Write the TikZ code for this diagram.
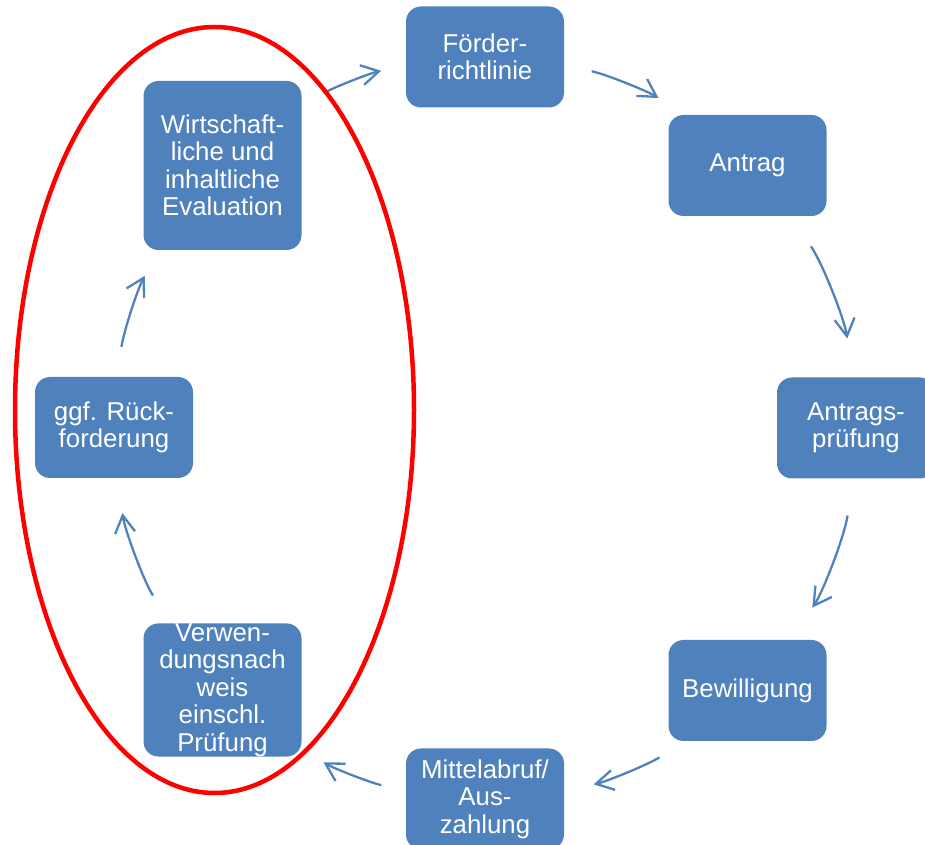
\documentclass[tikz,border=0pt]{standalone}
\usepackage{fontspec}
\setmainfont{Liberation Sans}
\usetikzlibrary{arrows.meta}
\definecolor{boxblue}{HTML}{4F81BD}
\definecolor{ringred}{HTML}{FF0000}
\tikzset{
  stepbox/.style={rectangle,rounded corners=0.3cm,fill=boxblue,text=white,align=center,
    minimum width=3.16cm,minimum height=2.02cm,inner sep=0pt,
    font=\fontsize{14.7}{15.65}\selectfont},
  flow/.style={draw=boxblue,line width=1.3pt,-{Straight Barb[length=0.35cm,width=0.4cm]},
    looseness=0.85}
}
\begin{document}
\begin{tikzpicture}
  \useasboundingbox (0,0) rectangle (18.5,-16.9);

  \node[stepbox] (foerder) at (9.7,-1.14) {Förder-\\richtlinie};
  \node[stepbox] (antrag) at (14.95,-3.31) {Antrag};
  \node[stepbox] (pruefung) at (17.12,-8.56) {Antrags-\\prüfung};
  \node[stepbox] (bewilligung) at (14.95,-13.81) {Bewilligung};
  \node[stepbox] (mittel) at (9.7,-15.98) {Mittelabruf/\\Aus-\\zahlung};
  \node[stepbox,minimum height=2.64cm] (verwendung) at (4.45,-13.8) {Verwen-\\dungsnach\\weis\\einschl.\\Prüfung};
  \node[stepbox] (rueck) at (2.28,-8.55) {ggf. Rück-\\forderung};
  \node[stepbox,minimum height=3.38cm] (evaluation) at (4.45,-3.31) {Wirtschaft-\\liche und\\inhaltliche\\Evaluation};

  \draw[flow,shorten <=0.5cm,shorten >=0.5cm] (evaluation.37) to[bend left=8.7] (foerder.186);
  \draw[flow,shorten <=0.56cm,shorten >=0.62cm] (foerder.-6) to[bend left=10.1] (antrag.141);
  \draw[flow,shorten <=0.73cm,shorten >=0.78cm] (antrag.-50) to[bend left=13.5] (pruefung.94);
  \draw[flow,shorten <=0.74cm,shorten >=0.78cm] (pruefung.-94) to[bend left=13.5] (bewilligung.50);
  \draw[flow,shorten <=0.6cm,shorten >=0.6cm] (bewilligung.-141) to[bend left=10.1] (mittel.6);
  \draw[flow,shorten <=0.5cm,shorten >=0.5cm] (mittel.174) to[bend left=8.7] (verwendung.-37);
  \draw[flow,shorten <=0.65cm,shorten >=0.7cm] (verwendung.128) to[bend left=12.1] (rueck.-86);
  \draw[flow,shorten <=0.6cm,shorten >=0.58cm] (rueck.86) to[bend left=10.5] (evaluation.233);

  \draw[ringred,line width=0.09cm] (4.29,-8.2) ellipse (3.99 and 7.66);
\end{tikzpicture}
\end{document}
